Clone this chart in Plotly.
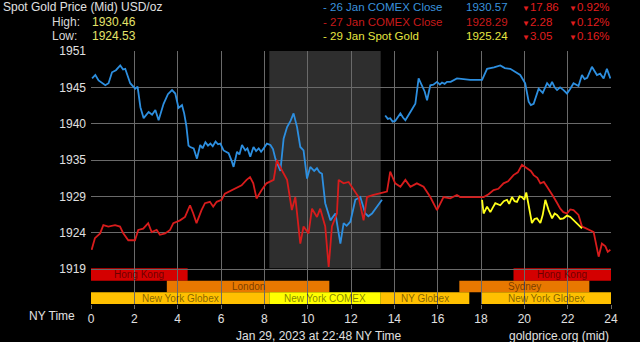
import plotly.graph_objects as go

# ---------------- data ----------------
blue_h = [0.05, 0.2, 0.35, 0.5, 0.66, 0.81, 0.97, 1.15, 1.35, 1.48, 1.58, 1.81, 2.04, 2.15, 2.28, 2.43, 2.55, 2.66, 2.82, 2.97, 3.12, 3.35, 3.55, 3.74, 3.89, 4.04, 4.20, 4.30, 4.40, 4.50, 4.58, 4.74, 4.89, 5.04, 5.15, 5.28, 5.40, 5.51, 5.62, 5.75, 5.86, 5.97, 6.12, 6.35, 6.50, 6.58, 6.74, 6.85, 6.97, 7.12, 7.22, 7.35, 7.50, 7.62, 7.74, 7.85, 7.97, 8.12, 8.28, 8.40, 8.51, 8.62, 8.74, 8.89, 9.05, 9.21, 9.35, 9.51, 9.66, 9.81, 9.97, 10.12, 10.30, 10.43, 10.55, 10.66, 10.81, 11.05, 11.28, 11.51, 11.66, 11.80, 11.97, 12.20, 12.43, 12.66, 12.80, 12.97, 13.20, 13.43,
          13.50,
          13.58, 13.70, 13.81, 13.92, 14.04, 14.15, 14.28, 14.40, 14.51, 14.74, 14.97, 15.12, 15.28, 15.40, 15.51, 15.66, 15.80, 15.97, 16.10, 16.20, 16.32, 16.43, 16.60, 16.89, 17.50, 18.05, 18.28, 18.60, 18.89, 19.10, 19.35, 19.60, 19.81, 20.04, 20.20, 20.30, 20.43, 20.66, 20.85, 21.05, 21.18, 21.28, 21.40, 21.51, 21.65, 21.81, 21.97, 22.12, 22.27, 22.50, 22.66, 22.78, 22.90, 23.12, 23.25, 23.35, 23.50, 23.66, 23.81, 23.97]
blue_v = [1947.1, 1947.6, 1946.8, 1946.5, 1946.1, 1946.4, 1948.0, 1948.3, 1949.0, 1948.4, 1948.5, 1946.4, 1945.6, 1945.9, 1942.9, 1941.3, 1941.7, 1942.2, 1941.8, 1942.5, 1941.0, 1943.4, 1944.8, 1945.4, 1944.9, 1942.8, 1943.2, 1942.0, 1940.2, 1937.3, 1937.1, 1936.9, 1935.4, 1937.4, 1936.9, 1937.8, 1937.3, 1937.6, 1937.2, 1937.9, 1937.5, 1937.6, 1936.6, 1936.2, 1935.0, 1934.2, 1936.4, 1936.0, 1937.4, 1936.6, 1936.9, 1935.7, 1937.1, 1936.5, 1936.9, 1936.4, 1936.9, 1937.6, 1937.4, 1936.8, 1935.4, 1934.6, 1933.6, 1938.3, 1940.0, 1940.9, 1942.0, 1940.0, 1937.1, 1936.6, 1932.5, 1934.2, 1933.6, 1934.0, 1933.4, 1933.2, 1928.9, 1926.4, 1927.4, 1923.0, 1926.0, 1925.6, 1926.2, 1929.4, 1929.8, 1927.4, 1927.0, 1927.4, 1928.4, 1929.4,
          None,
          1941.7, 1941.2, 1941.3, 1940.8, 1940.9, 1941.5, 1942.0, 1941.4, 1941.0, 1942.2, 1943.4, 1947.1, 1945.9, 1945.2, 1943.9, 1946.1, 1946.2, 1946.6, 1946.2, 1946.5, 1946.3, 1946.6, 1946.6, 1947.1, 1946.9, 1946.9, 1948.5, 1948.7, 1949.0, 1948.6, 1948.5, 1948.0, 1947.6, 1946.4, 1943.7, 1943.2, 1943.4, 1945.6, 1945.0, 1946.4, 1945.9, 1946.6, 1945.8, 1945.4, 1945.8, 1945.4, 1944.9, 1945.6, 1946.4, 1946.0, 1947.6, 1947.0, 1947.2, 1948.8, 1948.0, 1947.6, 1947.8, 1947.1, 1948.5, 1947.1]

red_h = [0.03, 0.18, 0.42, 0.57, 0.80, 1.11, 1.34, 1.49, 1.72, 2.03, 2.18, 2.41, 2.64, 2.80, 3.03, 3.18, 3.42, 3.65, 3.80, 4.11, 4.34, 4.57, 4.72, 4.87, 5.10, 5.26, 5.49, 5.64, 5.80, 6.03, 6.18, 6.49, 6.72, 6.95, 7.18, 7.34, 7.49, 7.64, 7.87, 8.10, 8.43, 8.58, 8.81, 9.05, 9.27, 9.43, 9.66, 9.81, 10.04, 10.20, 10.43, 10.58, 10.81, 10.97, 11.12, 11.35, 11.43, 11.66, 11.89, 12.12, 12.35, 12.58, 12.74, 13.04, 13.35, 13.66, 13.81, 14.04, 14.28, 14.51, 14.74, 15.04, 15.35, 15.66, 15.97, 16.27, 16.58, 16.89, 17.04, 18.12, 18.35, 18.58, 18.80, 19.04, 19.25, 19.50, 19.70, 19.89, 20.12, 20.30, 20.43, 20.60, 20.74, 20.90, 21.05, 21.20, 21.35, 21.50, 21.66, 21.80, 21.97, 22.12, 22.27, 22.50, 22.66, 22.80, 22.97, 23.20, 23.43, 23.58, 23.74, 23.85, 23.97]
red_v = [1922.1, 1923.8, 1924.5, 1925.7, 1925.5, 1925.7, 1925.5, 1924.5, 1923.5, 1923.5, 1925.0, 1925.2, 1926.0, 1924.7, 1925.0, 1924.3, 1924.5, 1925.0, 1926.0, 1926.4, 1926.9, 1928.6, 1927.4, 1926.0, 1927.9, 1928.9, 1929.1, 1928.4, 1929.1, 1929.4, 1930.3, 1930.8, 1931.1, 1931.5, 1932.3, 1932.7, 1931.8, 1929.6, 1930.8, 1931.8, 1932.3, 1935.2, 1933.7, 1932.3, 1927.9, 1929.8, 1923.0, 1925.5, 1924.5, 1928.1, 1926.9, 1928.1, 1925.5, 1919.6, 1925.5, 1927.4, 1932.3, 1931.8, 1932.0, 1930.8, 1929.8, 1926.4, 1929.8, 1930.1, 1930.3, 1930.6, 1933.5, 1931.8, 1931.3, 1932.3, 1931.3, 1931.8, 1931.3, 1929.8, 1927.9, 1929.8, 1929.6, 1930.1, 1929.8, 1929.8, 1930.2, 1930.8, 1931.0, 1931.8, 1932.1, 1933.0, 1933.4, 1934.5, 1934.0, 1933.6, 1933.0, 1932.6, 1931.8, 1932.0, 1931.3, 1930.6, 1929.8, 1929.0, 1928.1, 1927.6, 1927.4, 1928.0, 1927.9, 1927.2, 1925.5, 1925.3, 1925.0, 1924.7, 1921.1, 1923.0, 1922.6, 1921.8, 1922.1]

yellow_h = [18.05, 18.12, 18.28, 18.43, 18.55, 18.66, 18.89, 19.05, 19.20, 19.30, 19.43, 19.55, 19.66, 19.78, 19.89, 20.00, 20.09, 20.20, 20.35, 20.47, 20.58, 20.74, 20.85, 20.97, 21.12, 21.28, 21.40, 21.51, 21.66, 21.81, 21.97, 22.12, 22.27, 22.43, 22.55, 22.66]
yellow_v = [1929.4, 1927.4, 1928.4, 1927.6, 1928.3, 1928.9, 1928.6, 1929.2, 1929.4, 1928.8, 1929.8, 1929.2, 1929.1, 1929.9, 1929.8, 1929.4, 1930.46, 1928.4, 1926.0, 1926.6, 1926.7, 1926.0, 1927.2, 1929.4, 1927.9, 1926.7, 1927.4, 1927.2, 1926.6, 1926.7, 1927.1, 1926.9, 1926.4, 1926.0, 1925.6, 1925.24]

y_tick_labels = ["1919", "1924", "1929", "1935", "1940", "1945", "1951"]
y_tick_vals = [1919.3, 1924.6, 1929.9, 1935.2, 1940.5, 1945.8, 1951.1]
x_tick_vals = [0, 2, 4, 6, 8, 10, 12, 14, 16, 18, 20, 22, 24]

session_names = ["Hong Kong", "Hong Kong", "London", "Sydney", "New York Globex", "New York COMEX", "NY Globex", "New York Globex"]
session_start = [0.0, 19.5, 3.5, 17.0, 0.0, 8.23, 13.37, 18.0]
session_end = [4.46, 24.0, 11.0, 23.0, 8.23, 13.37, 17.46, 24.0]
session_row = [0, 0, 1, 1, 2, 2, 2, 2]
session_color = ["#d40000", "#d40000", "#e87800", "#e87800", "#ffc000", "#ffff00", "#ffc000", "#ffc000"]

comex_start, comex_end = 8.23, 13.37

high_val, low_val = "1930.46", "1924.53"
legend_labels = ["- 26 Jan COMEX Close", "- 27 Jan COMEX Close", "- 29 Jan Spot Gold"]
legend_values = ["1930.57", "1928.29", "1925.24"]
legend_changes = ["17.86", "2.28", "3.05"]
legend_pcts = ["0.92%", "0.12%", "0.16%"]
legend_colors = ["#3a92dc", "#c81a1a", "#e6e640"]

# ---------------- layout geometry ----------------
W, H = 640, 342
L, R, T, B = 91, 611, 51, 304
FONT = "Liberation Sans, Arial, sans-serif"


def P(px, py):
    return (px - L) / (R - L), (B - py) / (B - T)


BLUE = "#2d8fe0"
RED = "#d81c1c"
YEL = "#ffff1a"
GRID = "#6a6a6a"

fig = go.Figure()
fig.add_trace(go.Scatter(x=blue_h, y=blue_v, mode="lines", line=dict(color=BLUE, width=1.8), connectgaps=False))
fig.add_trace(go.Scatter(x=red_h, y=red_v, mode="lines", line=dict(color=RED, width=1.8)))
fig.add_trace(go.Scatter(x=yellow_h, y=yellow_v, mode="lines", line=dict(color=YEL, width=1.8)))

# row geometry in paper fractions
row_top = [(B - 268.3) / (B - T), (B - 280.7) / (B - T), (B - 292.3) / (B - T)]
row_bot = [(B - 280.7) / (B - T), (B - 292.3) / (B - T), 0.0]

shapes = []
shapes.append(dict(type="rect", xref="x", yref="paper", x0=comex_start, x1=comex_end,
                   y0=row_top[0], y1=1, fillcolor="#2e2e2e", line=dict(width=0), layer="below"))
annotations = []
for name, s, e, r, c in zip(session_names, session_start, session_end, session_row, session_color):
    shapes.append(dict(type="rect", xref="x", yref="paper", x0=s, x1=e, y0=row_bot[r], y1=row_top[r],
                       fillcolor=c, line=dict(width=0), layer="below"))
    annotations.append(dict(x=(s + e) / 2, y=(row_top[r] + row_bot[r]) / 2, xref="x", yref="paper",
                            text=name, showarrow=False, xanchor="center", yanchor="middle",
                            font=dict(family=FONT, size=10, color="rgba(0,0,0,0.5)")))


def txt(px, py, text, color, size=12, anchor="left"):
    x, y = P(px, py)
    annotations.append(dict(x=x, y=y, xref="paper", yref="paper", text=text, showarrow=False,
                            xanchor=anchor, yanchor="middle", font=dict(family=FONT, size=size, color=color),
                            borderpad=0))


txt(2, 7, "Spot Gold Price (Mid) USD/oz", "#e0e0e0")
txt(51, 22, "High:", "#d8d8d8")
txt(91, 22, high_val, "#e4e46a")
txt(51, 36, "Low:", "#d8d8d8")
txt(91, 36, low_val, "#e4e46a")
rows_y = [7, 22, 36]
tri = '<span style="font-size:8px">▼</span>'
for i in range(3):
    txt(322, rows_y[i], legend_labels[i], legend_colors[i], size=11.5)
    txt(465, rows_y[i], legend_values[i], legend_colors[i], size=11.5)
    txt(521, rows_y[i], tri + legend_changes[i], "#e01e1e", size=11.5)
    txt(568, rows_y[i], tri + legend_pcts[i], "#e01e1e", size=11.5)

txt(76, 316, "NY Time", "#e0e0e0", anchor="right")
txt(319, 336, "Jan 29, 2023 at 22:48 NY Time", "#e0e0e0", anchor="center")
txt(610, 336, "goldprice.org (mid)", "#e0e0e0", anchor="right")

fig.update_layout(
    width=W, height=H,
    margin=dict(l=L, r=W - R, t=T, b=H - B, pad=0),
    paper_bgcolor="black", plot_bgcolor="black",
    showlegend=False,
    shapes=shapes, annotations=annotations,
    xaxis=dict(range=[0, 24], tickvals=x_tick_vals, showgrid=True, gridcolor=GRID, gridwidth=1,
               zeroline=False, showline=False, ticks="outside", ticklen=4, tickcolor=GRID,
               tickfont=dict(family=FONT, size=12, color="#e0e0e0"), fixedrange=True),
    yaxis=dict(range=[1914.2, 1951.1], tickvals=y_tick_vals, ticktext=y_tick_labels,
               showgrid=True, gridcolor=GRID, gridwidth=1, zeroline=False, showline=False,
               ticks="", ticklabelstandoff=4,
               tickfont=dict(family=FONT, size=12, color="#e0e0e0"), fixedrange=True),
)

fig.write_html("out.html")
